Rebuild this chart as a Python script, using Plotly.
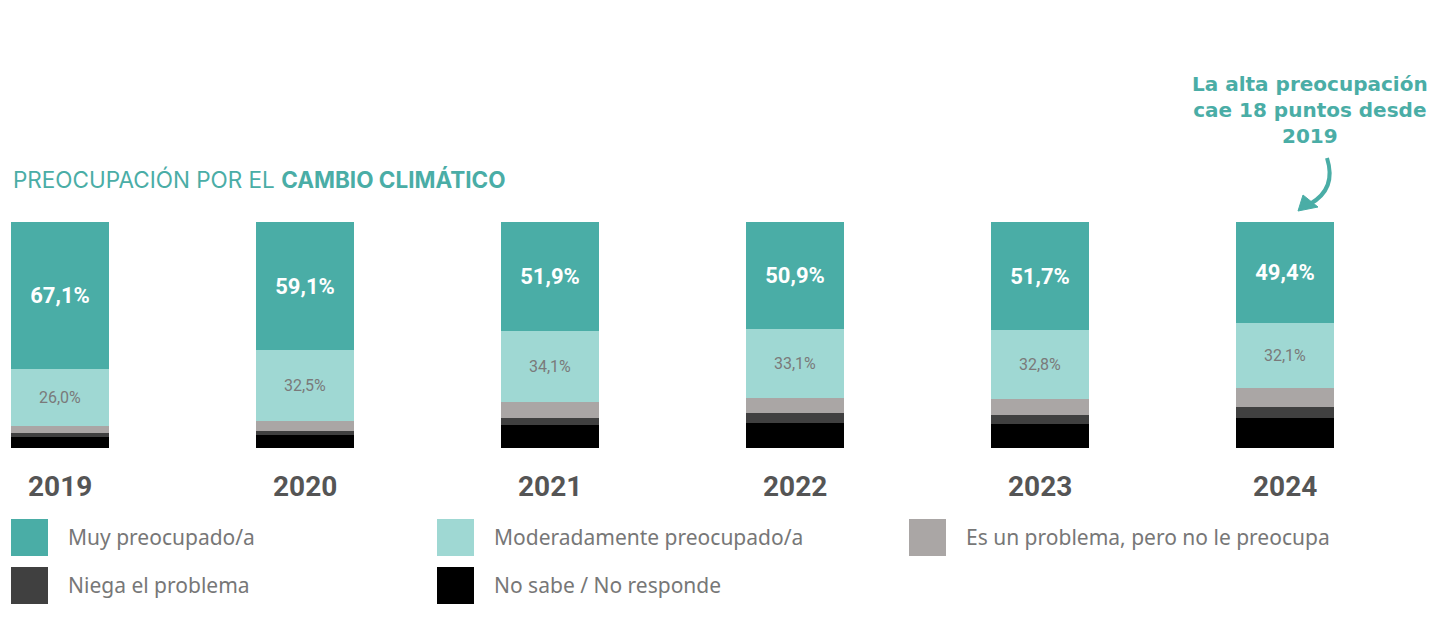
import plotly.graph_objects as go

# data
years = ['2019', '2020', '2021', '2022', '2023', '2024']
muy = [67.1, 59.1, 51.9, 50.9, 51.7, 49.4]
moderado = [26.0, 32.5, 34.1, 33.1, 32.8, 32.1]
no_preocupa = [3.2, 4.6, 7.6, 7.2, 7.7, 9.3]
niega = [1.8, 1.8, 3.3, 4.8, 4.3, 5.4]
ns_nc = [5.0, 6.0, 11.0, 12.0, 11.5, 14.7]

names = ['Muy preocupado/a', 'Moderadamente preocupado/a',
         'Es un problema, pero no le preocupa', 'Niega el problema',
         'No sabe / No responde']
colors = ['#4aada6', '#9fd8d3', '#aaa6a5', '#404040', '#000000']
callout = 'La alta preocupación<br>cae 18 puntos desde<br>2019'

OFF = 8  # page margin around the figure
W, H = 1439 - 2 * OFF, 618 - 2 * OFF
TOP, BOT = 222 - OFF, 448 - OFF


def px(x, y):
    # page pixel -> paper coords
    return (x - OFF) / W, (BOT - (y - OFF)) / (BOT - TOP)


xs = list(range(len(years)))
c0 = 60 - OFF
fig = go.Figure()

# stacked from the bottom up, every bar scaled to 100%
fig.add_bar(x=xs, y=ns_nc, marker_color=colors[4], width=0.4, name=names[4])
fig.add_bar(x=xs, y=niega, marker_color=colors[3], width=0.4, name=names[3])
fig.add_bar(x=xs, y=no_preocupa, marker_color=colors[2], width=0.4, name=names[2])
fig.add_bar(x=xs, y=moderado, marker_color=colors[1], width=0.4, name=names[1],
            text=[f'{v:.1f}%'.replace('.', ',') for v in moderado],
            textposition='inside', insidetextanchor='middle', textangle=0,
            textfont=dict(family='Roboto', size=16, color='#7a7a7a'))
fig.add_bar(x=xs, y=muy, marker_color=colors[0], width=0.4, name=names[0],
            text=[f'<b>{v:.1f}%</b>'.replace('.', ',') for v in muy],
            textposition='inside', insidetextanchor='middle', textangle=0,
            textfont=dict(family='Roboto', size=22, color='white'))

fig.update_traces(marker_line_width=0)

fig.update_layout(
    barmode='stack', barnorm='percent',
    width=W, height=H,
    margin=dict(l=0, r=0, t=TOP, b=H - BOT),
    plot_bgcolor='white', paper_bgcolor='white',
    showlegend=False,
    xaxis=dict(range=[-c0 / 245, (W - c0) / 245], visible=False, fixedrange=True),
    yaxis=dict(range=[0, 100], visible=False),
)

# year labels
for i, yr in enumerate(years):
    fig.add_annotation(x=i, y=0, xref='x', yref='paper', text=f'<b>{yr}</b>',
                       showarrow=False, yanchor='middle', yshift=-38,
                       font=dict(family='Roboto', size=28, color='#555555'))

# title
tx, ty = px(11, 179)
fig.add_annotation(x=tx, y=ty, xref='paper', yref='paper', xanchor='left',
                   yanchor='middle', showarrow=False,
                   text='PREOCUPACIÓN POR EL <b>CAMBIO CLIMÁTICO</b>',
                   font=dict(family='Inter', size=22.5, color='#4aada6'))

# legend drawn by hand
legend_pos = [(11, 519), (437, 519), (909, 519), (11, 567), (437, 567)]
for (lx, ly), name, col in zip(legend_pos, names, colors):
    x0, y0 = px(lx, ly + 37)
    x1, y1 = px(lx + 37, ly)
    fig.add_shape(type='rect', xref='paper', yref='paper', x0=x0, y0=y0, x1=x1, y1=y1,
                  fillcolor=col, line_width=0)
    ax, ay = px(lx + 55, ly + 18)
    fig.add_annotation(x=ax, y=ay, xref='paper', yref='paper', xanchor='left',
                       yanchor='middle', showarrow=False, text=name,
                       font=dict(family='Noto Sans', size=21, color='#777777'))

# callout
cx, cy = px(1310, 110)
fig.add_annotation(x=cx, y=cy, xref='paper', yref='paper', showarrow=False,
                   text=f'<b>{callout}</b>', align='center', xanchor='center',
                   yanchor='middle',
                   font=dict(family='DejaVu Sans', size=20, color='#4aada6'))
p0, p1, p2, p3 = px(1327, 158), px(1334, 180), px(1326, 195), px(1310, 204)
fig.add_shape(type='path', xref='paper', yref='paper',
              path=f'M {p0[0]},{p0[1]} C {p1[0]},{p1[1]} {p2[0]},{p2[1]} {p3[0]},{p3[1]}',
              line=dict(color='#4aada6', width=4))
h0, h1, h2 = px(1298, 211), px(1303, 195), px(1318, 207)
fig.add_shape(type='path', xref='paper', yref='paper',
              path=f'M {h0[0]},{h0[1]} L {h1[0]},{h1[1]} L {h2[0]},{h2[1]} Z',
              fillcolor='#4aada6', line=dict(color='#4aada6', width=1))

fig.write_html('out.html')
